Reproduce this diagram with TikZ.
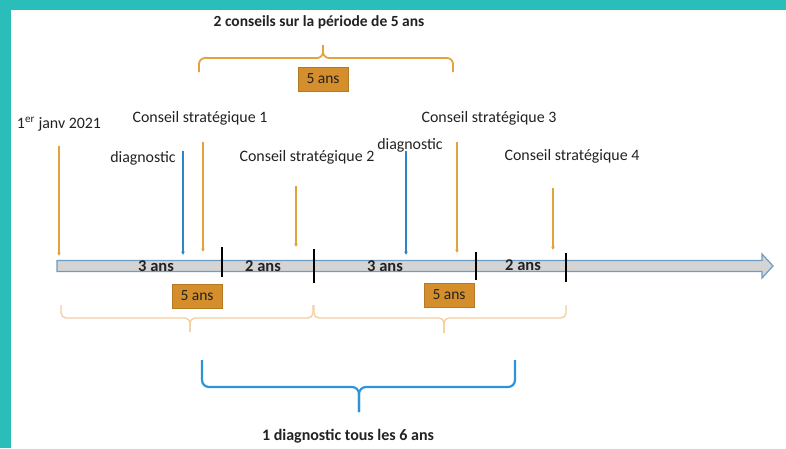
\documentclass[tikz,border=0pt]{standalone}
\usepackage{fontspec}
\setmainfont{Carlito}
\usetikzlibrary{arrows.meta}
\definecolor{frameteal}{HTML}{2BBDB9}
\definecolor{arrorange}{HTML}{E3A23E}
\definecolor{boxorange}{HTML}{D48E2C}
\definecolor{paleorange}{HTML}{F5CD9C}
\definecolor{arrblue}{HTML}{2C86C6}
\definecolor{braceblue}{HTML}{2F93DA}
\definecolor{barfill}{HTML}{D4D4D4}
\definecolor{barline}{HTML}{6E9CC4}
\definecolor{textcol}{HTML}{222222}
\tikzset{
  lbl/.style={inner sep=0pt, text=textcol, font=\fontsize{15.9}{19}\selectfont},
  boldlbl/.style={inner sep=0pt, text=textcol, font=\fontsize{15.5}{19}\selectfont\bfseries},
  barlbl/.style={inner sep=0pt, text=textcol, font=\fontsize{16.5}{19}\selectfont\bfseries},
  yearbox/.style={fill=boxorange, draw=boxorange!85!black, line width=0.5pt, minimum width=50pt, minimum height=24pt, inner sep=0pt, text=textcol, font=\fontsize{15.5}{18}\selectfont},
  oarrow/.style={draw=arrorange, line width=1.6pt, -{Latex[length=3.5pt,width=4pt]}},
  barrow/.style={draw=arrblue, line width=1.6pt, -{Latex[length=3.5pt,width=4pt]}},
  tickmark/.style={draw=black, line width=2.2pt},
  bracetop/.style={draw=arrorange, line width=1.8pt, rounded corners=6pt},
  bracepale/.style={draw=paleorange, line width=1.3pt, rounded corners=5pt},
  braceblu/.style={draw=braceblue, line width=2.2pt, rounded corners=7pt},
  timebar/.style={fill=barfill, draw=barline, line width=1.2pt, line join=miter}
}
\begin{document}
\begin{tikzpicture}[x=1pt,y=-1pt]
\useasboundingbox (0,0) rectangle (786,448);
\fill[white] (0,0) rectangle (786,448);
\fill[frameteal] (0,0) rectangle (786,10);
\fill[frameteal] (0,0) rectangle (11,448);

% title and top brace
\node[boldlbl] (title) at (319,22) {2 conseils sur la période de 5 ans};
\draw[bracetop] (199,72) -- (199,58) -- (323,58) -- (323,45);
\draw[bracetop] (453,72) -- (453,58) -- (323,58) -- (323,45);
\node[yearbox] (box0) at (323,79) {5 ans};

% labels
\node[lbl] (jan) at (59,124) {1\textsuperscript{er} janv 2021};
\node[lbl] (cs1) at (200,118) {Conseil stratégique 1};
\node[lbl] (diag1) at (143,158) {diagnostic};
\node[lbl] (cs2) at (307,157) {Conseil stratégique 2};
\node[lbl] (diag2) at (410,145) {diagnostic};
\node[lbl] (cs3) at (489,118) {Conseil stratégique 3};
\node[lbl] (cs4) at (572,156) {Conseil stratégique 4};

% timeline bar
\draw[timebar] (57,260.5) -- (762,260.5) -- (762,254) -- (773,266) -- (762,278) -- (762,271.5) -- (57,271.5) -- cycle;

% vertical arrows
\coordinate (a0s) at (59,146);  \coordinate (a0e) at (59,256);
\coordinate (b1s) at (183,151); \coordinate (b1e) at (183,255);
\coordinate (a1s) at (203,142); \coordinate (a1e) at (203,252);
\coordinate (a2s) at (296,186); \coordinate (a2e) at (296,247);
\coordinate (b2s) at (406,151); \coordinate (b2e) at (406,255);
\coordinate (a3s) at (457,142); \coordinate (a3e) at (457,253);
\coordinate (a4s) at (553,188); \coordinate (a4e) at (553,250);
\draw[oarrow] (a0s) -- (a0e);
\draw[barrow] (b1s) -- (b1e);
\draw[oarrow] (a1s) -- (a1e);
\draw[oarrow] (a2s) -- (a2e);
\draw[barrow] (b2s) -- (b2e);
\draw[oarrow] (a3s) -- (a3e);
\draw[oarrow] (a4s) -- (a4e);

% tick marks
\coordinate (t1a) at (222,247); \coordinate (t1b) at (222,277);
\coordinate (t2a) at (314,249); \coordinate (t2b) at (314,283);
\coordinate (t3a) at (476,252); \coordinate (t3b) at (476,280);
\coordinate (t4a) at (566,253); \coordinate (t4b) at (566,282);
\draw[tickmark] (t1a) -- (t1b);
\draw[tickmark] (t2a) -- (t2b);
\draw[tickmark] (t3a) -- (t3b);
\draw[tickmark] (t4a) -- (t4b);

% bar labels
\node[barlbl] (y1) at (156,266) {3 ans};
\node[barlbl] (y2) at (263,266) {2 ans};
\node[barlbl] (y3) at (385,266) {3 ans};
\node[barlbl] (y4) at (523,265) {2 ans};

% lower boxes and braces
\node[yearbox] (box1) at (197,296) {5 ans};
\node[yearbox] (box2) at (449,295) {5 ans};
\draw[bracepale] (61,305) -- (61,318) -- (190,318) -- (190,332);
\draw[bracepale] (313,305) -- (313,318) -- (190,318) -- (190,332);
\draw[bracepale] (314,305) -- (314,318) -- (444,318) -- (444,333);
\draw[bracepale] (566,305) -- (566,318) -- (444,318) -- (444,333);

% blue brace
\draw[braceblu] (202,360) -- (202,387) -- (359,387) -- (359,412);
\draw[braceblu] (515,360) -- (515,387) -- (359,387) -- (359,412);
\node[boldlbl, font=\fontsize{16}{19}\selectfont\bfseries] (bottom) at (348,436) {1 diagnostic tous les 6 ans};
\end{tikzpicture}
\end{document}
